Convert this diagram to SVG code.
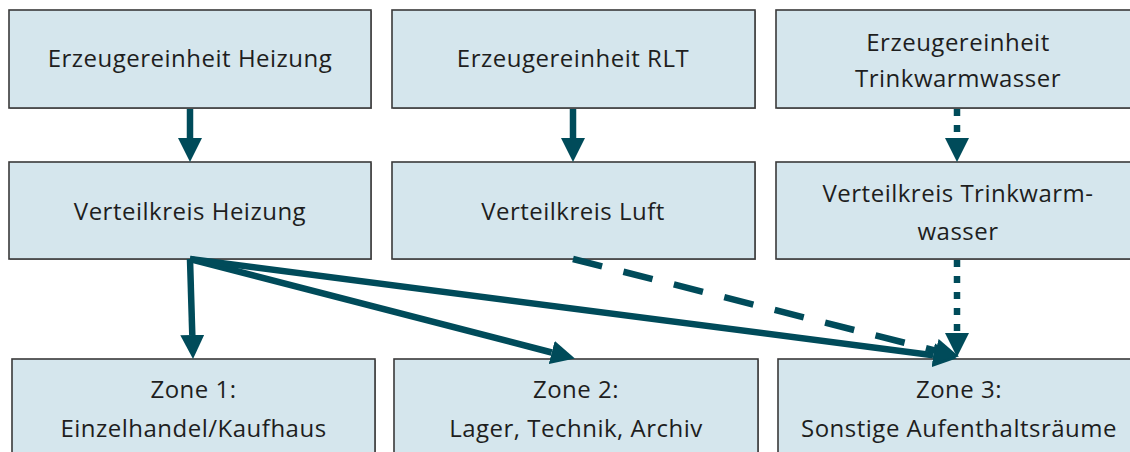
<svg xmlns="http://www.w3.org/2000/svg" width="1130" height="452" viewBox="0 0 1130 452">
<style>
.box{fill:#d5e6ed;stroke:#3a3a3a;stroke-width:1.6}
.sh{fill:#9a9a9a}
.t{font-family:"Open Sans","Noto Sans",sans-serif;font-size:24px;letter-spacing:0.5px;fill:#1e1e1e;text-anchor:middle}
.c{stroke:#004b5a;stroke-width:6.5;fill:none}
.dash{stroke-dasharray:30 22}
.dot{stroke-dasharray:7 9}
</style>
<defs>
<marker id="ah" markerUnits="userSpaceOnUse" markerWidth="24" markerHeight="24" refX="0" refY="12" orient="auto" viewBox="0 0 24 24">
<path d="M0,0 L24,12 L0,24 z" fill="#004b5a"/>
</marker>
</defs>
<rect width="1130" height="452" fill="#ffffff"/>
<g id="n_erz_heizung"><rect class="sh" x="10" y="11" width="362" height="98"/><rect class="box" x="9" y="10" width="362" height="98"/><text class="t" x="190" y="67">Erzeugereinheit Heizung</text></g>
<g id="n_erz_rlt"><rect class="sh" x="393" y="11" width="363" height="98"/><rect class="box" x="392" y="10" width="363" height="98"/><text class="t" x="573" y="67">Erzeugereinheit RLT</text></g>
<g id="n_erz_tww"><rect class="sh" x="777" y="11" width="364" height="98"/><rect class="box" x="776" y="10" width="364" height="98"/><text class="t" x="958" y="51">Erzeugereinheit</text><text class="t" x="958" y="87">Trinkwarmwasser</text></g>
<g id="n_vk_heizung"><rect class="sh" x="10" y="163" width="362" height="97"/><rect class="box" x="9" y="162" width="362" height="97"/><text class="t" x="190" y="220">Verteilkreis Heizung</text></g>
<g id="n_vk_luft"><rect class="sh" x="393" y="163" width="363" height="97"/><rect class="box" x="392" y="162" width="363" height="97"/><text class="t" x="573" y="220">Verteilkreis Luft</text></g>
<g id="n_vk_tww"><rect class="sh" x="777" y="163" width="364" height="97"/><rect class="box" x="776" y="162" width="364" height="97"/><text class="t" x="958" y="202">Verteilkreis Trinkwarm-</text><text class="t" x="958" y="240">wasser</text></g>
<g id="n_zone1"><rect class="sh" x="13" y="360" width="363" height="100"/><rect class="box" x="12" y="359" width="363" height="100"/><text class="t" x="193.5" y="398">Zone 1:</text><text class="t" x="193.5" y="437">Einzelhandel/Kaufhaus</text></g>
<g id="n_zone2"><rect class="sh" x="395" y="360" width="364" height="100"/><rect class="box" x="394" y="359" width="364" height="100"/><text class="t" x="576" y="398">Zone 2:</text><text class="t" x="576" y="437">Lager, Technik, Archiv</text></g>
<g id="n_zone3"><rect class="sh" x="779" y="360" width="364" height="100"/><rect class="box" x="778" y="359" width="364" height="100"/><text class="t" x="959" y="398">Zone 3:</text><text class="t" x="959" y="437">Sonstige Aufenthaltsräume</text></g>
<g id="connectors">
<line class="c" x1="190" y1="109" x2="190" y2="138" marker-end="url(#ah)"/>
<line class="c" x1="573" y1="109" x2="573" y2="138" marker-end="url(#ah)"/>
<line class="c dot" x1="957" y1="109" x2="957" y2="138" marker-end="url(#ah)"/>
<line class="c" x1="190" y1="259" x2="192.3" y2="335" marker-end="url(#ah)"/>
<line class="c" x1="190" y1="259" x2="551.7" y2="352.5" marker-end="url(#ah)"/>
<line class="c" x1="190" y1="259" x2="933.2" y2="355.2" marker-end="url(#ah)"/>
<line class="c dash" x1="573" y1="259" x2="935.7" y2="350.6" marker-end="url(#ah)"/>
<line class="c dot" x1="957" y1="260" x2="957" y2="333" marker-end="url(#ah)"/>
</g>
</svg>
